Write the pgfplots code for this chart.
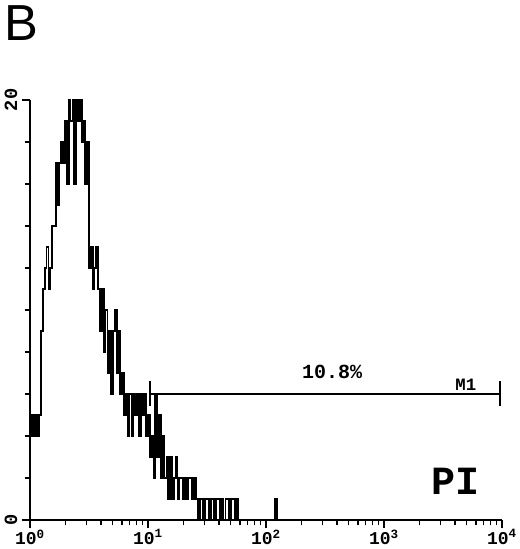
\documentclass[border=0pt]{standalone}
\usepackage{fontspec}
\setmainfont{Liberation Sans}
\setmonofont{Liberation Mono}
\usepackage{pgfplots}
\usepackage{pgfplotstable}
\pgfplotsset{compat=1.18}

% PI histogram, 64 channels per decade (channel 0 = 10^0, 256 = 10^4)
\pgfplotstableread[row sep=\\]{
ch n \\
0 4 \\ 1 5 \\ 2 4 \\ 3 5 \\ 4 4 \\ 5 5 \\ 6 9 \\ 7 11 \\ 8 12 \\ 9 13 \\
10 11 \\ 11 12 \\ 12 14 \\ 13 14 \\ 14 17 \\ 15 15 \\ 16 17 \\ 17 18 \\ 18 17 \\ 19 19 \\
20 16 \\ 21 20 \\ 22 19 \\ 23 20 \\ 24 16 \\ 25 20 \\ 26 19 \\ 27 20 \\ 28 18 \\ 29 19 \\
30 16 \\ 31 18 \\ 32 12 \\ 33 13 \\ 34 11 \\ 35 12 \\ 36 13 \\ 37 11 \\ 38 9 \\ 39 11 \\
40 8 \\ 41 10 \\ 42 7 \\ 43 9 \\ 44 6 \\ 45 9 \\ 46 10 \\ 47 7 \\ 48 9 \\ 49 6 \\
50 7 \\ 51 5 \\ 52 6 \\ 53 4 \\ 54 6 \\ 55 4 \\ 56 6 \\ 57 5 \\ 58 6 \\ 59 4 \\
60 6 \\ 61 5 \\ 62 6 \\ 63 4 \\ 64 5 \\ 65 3 \\ 66 4 \\ 67 2 \\ 68 6 \\ 69 3 \\
70 5 \\ 71 2 \\ 72 4 \\ 73 2 \\ 74 3 \\ 75 1 \\ 76 3 \\ 77 1 \\ 78 2 \\ 79 3 \\
80 1 \\ 81 2 \\ 82 2 \\ 83 1 \\ 84 2 \\ 85 1 \\ 86 2 \\ 87 2 \\ 88 1 \\ 89 2 \\
90 1 \\ 91 0 \\ 92 1 \\ 93 1 \\ 94 0 \\ 95 1 \\ 96 1 \\ 97 0 \\ 98 1 \\ 99 1 \\
100 0 \\ 101 1 \\ 102 1 \\ 103 0 \\ 104 1 \\ 105 0 \\ 106 1 \\ 107 1 \\ 108 0 \\ 109 1 \\
110 1 \\ 111 0 \\ 112 1 \\ 113 0 \\ 132 0 \\ 133 1 \\ 134 0 \\ 135 0 \\
}\pidata

\begin{document}
\begin{tikzpicture}
\useasboundingbox (0,0) rectangle (390pt,411.75pt);
\begin{axis}[
  at={(22.5pt,21.75pt)}, anchor=south west,
  scale only axis, width=354pt, height=315pt,
  xmin=0, xmax=256, ymin=0, ymax=20,
  axis x line*=bottom, axis y line*=left,
  axis line style={line width=1.2pt},
  xtick={0,64,128,192,256},
  xticklabels={10\textsuperscript{0},10\textsuperscript{1},10\textsuperscript{2},10\textsuperscript{3},10\textsuperscript{4}},
  minor xtick={19.27,30.54,38.53,44.73,49.80,54.09,57.80,61.07,
    83.27,94.54,102.53,108.73,113.80,118.09,121.80,125.07,
    147.27,158.54,166.53,172.73,177.80,182.09,185.80,189.07,
    211.27,222.54,230.53,236.73,241.80,246.09,249.80,253.07},
  ytick={0,20}, yticklabels={0,20},
  minor ytick={2,4,...,18},
  tick align=outside,
  major tick length=6pt, minor tick length=4pt,
  every tick/.style={line width=1.1pt, black},
  xticklabel style={font=\fontsize{13.5}{13.5}\selectfont\ttfamily\bfseries, inner sep=1pt},
  yticklabel style={font=\fontsize{14}{14}\selectfont\ttfamily\bfseries, rotate=90, anchor=south},
  clip=false,
]
\addplot[const plot, black, line width=1.35pt, mark=none] table[x=ch, y=n] {\pidata};
% M1 gate
\addplot[black, line width=1pt, mark=none] coordinates {(65,6) (255,6)};
\addplot[black, line width=1pt, mark=none] coordinates {(255,5.45) (255,6.6)};
\addplot[black, line width=1pt, mark=none] coordinates {(65,5.45) (65,6.6)};
\node[font=\fontsize{15}{15}\selectfont\ttfamily\bfseries] at (axis cs:163.8,7.05) {10.8\%};
\node[font=\fontsize{13}{13}\selectfont\ttfamily\bfseries] at (axis cs:236.4,6.45) {M1};
\node[font=\fontsize{30}{30}\selectfont\ttfamily\bfseries] at (axis cs:231,1.85) {PI};
\end{axis}
\node[anchor=north west, inner sep=0pt, font=\fontsize{38}{38}\selectfont] at (3pt,408pt) {B};
\end{tikzpicture}
\end{document}
